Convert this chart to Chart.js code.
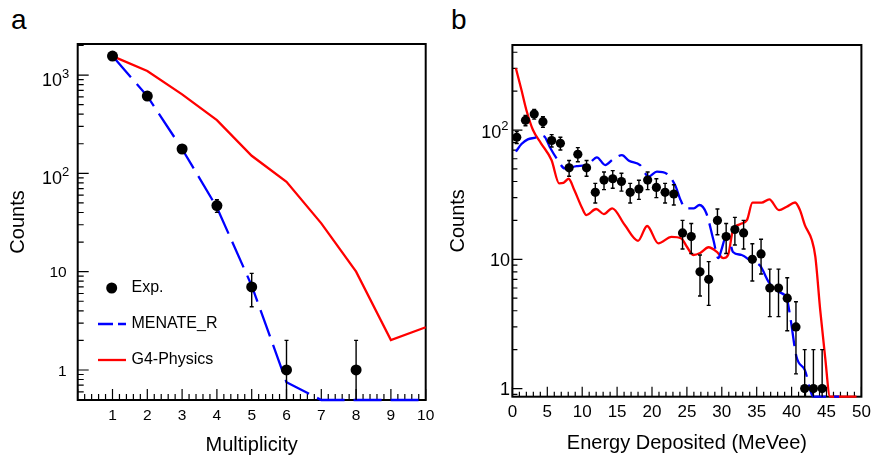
<!DOCTYPE html>
<html>
<head>
<meta charset="utf-8">
<script src="https://cdn.jsdelivr.net/npm/chart.js@4.4.1/dist/chart.umd.min.js"></script>
<style>
  body { margin: 0; background: #fff; width: 872px; height: 456px; position: relative; overflow: hidden; font-family: "Liberation Sans", Arial, sans-serif; }
  canvas { position: absolute; top: 0; }
  #chartA { left: 0; }
  #chartB { left: 440px; }
  .tag { position: absolute; top: 6px; font-size: 28px; line-height: 28px; color: #000; }
</style>
</head>
<body>
<div class="tag" style="left:11px">a</div>
<div class="tag" style="left:451px">b</div>
<canvas id="chartA" width="440" height="456"></canvas>
<canvas id="chartB" width="432" height="456"></canvas>
<script>
// ---- panel a: multiplicity ----
const multPoints = [1, 2, 3, 4, 5, 6, 7, 8, 9, 10];
const multTicks = [1, 2, 3, 4, 5, 6, 7, 8, 9, 10];
const expMult = [1, 2, 3, 4, 5, 6, 8];
const expMultCounts = [1560, 611, 177, 47, 7, 1, 1];
const expMultErr = [39.5, 24.7, 13.3, 6.9, 2.6, 1, 1];
const menateMult = [1560, 611, 177, 45, 7.2, 0.75, 0.495, 0.495, 0.495, 0.495];
const g4Mult = [1560, 1100, 636, 348, 151, 82, 31, 10, 2.02, 2.72];

// ---- panel b: energy deposited ----
const energyTicks = [0, 5, 10, 15, 20, 25, 30, 35, 40, 45, 50];
const expEnergy = [0.625, 1.875, 3.125, 4.375, 5.625, 6.875, 8.125, 9.375, 10.625, 11.875, 13.125, 14.375,
  15.625, 16.875, 18.125, 19.375, 20.625, 21.875, 23.125, 24.375, 25.625, 26.875, 28.125, 29.375,
  30.625, 31.875, 33.125, 34.375, 35.625, 36.875, 38.125, 39.375, 40.625, 41.875, 43.125, 44.375];
const expEnergyCounts = [88, 119, 133, 116, 83, 79, 51, 65, 51, 33, 41, 42, 40, 33, 35, 41, 36, 33,
  32, 16, 15, 8, 7, 20, 15, 17, 16, 10, 11, 6, 6, 5, 3, 1, 1, 1];
const expEnergyErr = [9.4, 10.9, 11.5, 10.8, 9.1, 8.9, 7.1, 8.1, 7.1, 5.7, 6.4, 6.5, 6.3, 5.7, 5.9, 6.4, 6.0, 5.7,
  5.7, 4.0, 3.9, 2.8, 2.6, 4.5, 3.9, 4.1, 4.0, 3.2, 3.3, 2.4, 2.4, 2.2, 1.7, 1, 1, 1];
const menateE = [0.5, 1.3, 2.2, 3.4, 3.9, 4.6, 5.35, 6.5, 7.5, 9.2, 10.4, 11.1, 12.1, 13.3, 14.4, 15.7, 16.7,
  18.3, 19.5, 20.7, 22.1, 23.3, 24.1, 24.8, 26.0, 26.8, 27.8, 28.8, 29.5, 30.0, 30.5, 31.2, 31.6, 32.85,
  34.3, 35.5, 36.7, 38.1, 39.3, 39.8, 40.7, 41.9, 43.1, 46.8];
const menateCounts = [68, 78, 84.7, 87.8, 91, 89, 74, 58.6, 50.5, 52.6, 53.6, 55.8, 61.5, 53.6, 59.3, 64, 57.8,
  53.6, 43.6, 47.6, 46, 37.5, 28.7, 24.8, 24.8, 26.3, 22.6, 14.1, 10.2, 12.1, 14.5, 13.3, 11.4, 10.8,
  9.6, 8.9, 6.7, 5.6, 5.0, 3.6, 1.76, 1.39, 0.865, 0.865];
const g4E = [0.5, 1.3, 2.0, 2.95, 4.1, 5.6, 6.7, 7.3, 8.05, 8.9, 10.0, 10.6, 12.0, 13.1, 14.3, 16.1, 18.0,
  19.3, 20.9, 22.8, 24.2, 25.0, 25.9, 26.9, 28.1, 29.3, 30.2, 30.9, 31.6, 32.6, 33.6, 34.4, 35.7, 36.8,
  38.2, 39.3, 40.5, 41.2, 41.9, 42.9, 43.4, 44.1, 44.8, 45.5, 49.3];
const g4Counts = [301, 204, 143, 100, 79, 58.6, 38.7, 39, 42, 34, 24.8, 22, 24.5, 22.4, 24.8, 18.4, 13.9,
  18.1, 13.3, 14.9, 14.5, 12.5, 10.8, 11.2, 12.4, 11.4, 10.2, 10.8, 16.8, 18.7, 20.1, 27.4, 27.4, 29.1,
  24, 25.5, 27.5, 24, 18.4, 14.1, 10.5, 4.05, 1.76, 0.865, 0.865];

const FONT = '"Liberation Sans", Arial, sans-serif';
const pairs = (xs, ys) => xs.map((x, i) => ({ x, y: ys[i] }));

// ROOT-like frame with inward major/minor ticks, error bars and 10^n labels
const rootFrame = {
  id: 'rootFrame',
  beforeDatasetsDraw(chart, args, o) {
    const { ctx, chartArea: a, scales: { x, y } } = chart;
    ctx.save();
    ctx.strokeStyle = '#000';
    ctx.lineWidth = 1.2;
    ctx.beginPath();
    const n = Math.round((x.max - x.min) / o.xMinor);
    for (let i = 0; i <= n; i++) {
      const v = x.min + i * o.xMinor;
      const px = x.getPixelForValue(v);
      const major = Math.abs(v / o.xMajor - Math.round(v / o.xMajor)) < 1e-6;
      ctx.moveTo(px, a.bottom);
      ctx.lineTo(px, a.bottom - (major ? o.major : o.minor));
    }
    const d0 = Math.floor(Math.log10(y.min)), d1 = Math.ceil(Math.log10(y.max));
    for (let d = d0; d <= d1; d++) {
      for (let m = 1; m <= 9; m++) {
        const v = m * Math.pow(10, d);
        if (v < y.min || v > y.max) continue;
        const py = y.getPixelForValue(v);
        ctx.moveTo(a.left, py);
        ctx.lineTo(a.left + (m === 1 ? o.major : o.minor), py);
      }
    }
    ctx.stroke();
    ctx.lineWidth = 2;
    ctx.strokeRect(a.left, a.top, a.right - a.left, a.bottom - a.top);
    ctx.restore();
  },
  afterDatasetsDraw(chart, args, o) {
    const { ctx, chartArea: a, scales: { x, y } } = chart;
    ctx.save();
    ctx.strokeStyle = '#000';
    ctx.lineWidth = 1.4;
    ctx.beginPath();
    o.errX.forEach((xv, i) => {
      const px = x.getPixelForValue(xv);
      const lo = o.errY[i] - o.err[i];
      const top = y.getPixelForValue(o.errY[i] + o.err[i]);
      const bot = lo > 0 ? Math.min(a.bottom, y.getPixelForValue(lo)) : a.bottom;
      ctx.moveTo(px, top); ctx.lineTo(px, bot);
      ctx.moveTo(px - 2, top); ctx.lineTo(px + 2, top);
      if (lo > 0) { ctx.moveTo(px - 2, bot); ctx.lineTo(px + 2, bot); }
    });
    ctx.stroke();

    // y tick labels, powers of ten written as 10 + raised exponent
    ctx.fillStyle = '#000';
    ctx.textAlign = 'right';
    ctx.textBaseline = 'alphabetic';
    o.yTicks.forEach(v => {
      const py = y.getPixelForValue(v);
      const e = Math.round(Math.log10(v));
      if (e < 2) {
        ctx.font = o.yFont + 'px ' + FONT;
        ctx.fillText(String(v), a.left - o.yPad, py + 0.36 * o.yFont);
      } else {
        const base = py + o.expShift + 0.36 * o.expBase;
        ctx.font = o.expSize + 'px ' + FONT;
        const right = a.left - o.expPad;
        ctx.fillText(String(e), right, base - 0.42 * o.expBase);
        const ew = ctx.measureText(String(e)).width;
        ctx.font = o.expBase + 'px ' + FONT;
        ctx.fillText('10', right - ew, base);
      }
    });
    ctx.restore();
  }
};

// legend drawn inside panel a
const insideLegend = {
  id: 'insideLegend',
  afterDraw(chart, args, o) {
    if (!o.show) return;
    const { ctx } = chart;
    const ds = chart.data.datasets;
    ctx.save();
    ctx.font = '16px ' + FONT;
    ctx.textBaseline = 'middle';
    const rows = [288, 324, 360];
    ds.forEach((d, i) => {
      const yy = rows[i];
      ctx.fillStyle = '#000';
      if (i === 0) {
        ctx.beginPath();
        ctx.arc(111.7, yy, 5.5, 0, Math.PI * 2);
        ctx.fill();
      } else {
        ctx.beginPath();
        ctx.strokeStyle = d.borderColor;
        ctx.lineWidth = d.borderWidth;
        ctx.setLineDash(d.borderDash ? [15, 5] : []);
        ctx.moveTo(98, yy); ctx.lineTo(126, yy);
        ctx.stroke();
        ctx.setLineDash([]);
      }
      ctx.fillText(d.label, 131.5, yy);
    });
    ctx.restore();
  }
};

function panel(id, cfg) {
  return new Chart(document.getElementById(id), {
    type: 'scatter',
    data: {
      datasets: [
        { label: 'Exp.', data: cfg.exp, showLine: false, pointRadius: cfg.dot, pointHoverRadius: cfg.dot,
          backgroundColor: '#000', borderColor: '#000', borderWidth: 0 },
        { label: 'MENATE_R', data: cfg.blue, showLine: true, pointRadius: 0, borderColor: '#0000ff',
          borderWidth: 2.3, borderDash: cfg.dash, tension: cfg.tension, cubicInterpolationMode: cfg.interp, clip: 6 },
        { label: 'G4-Physics', data: cfg.red, showLine: true, pointRadius: 0, borderColor: '#ff0000',
          borderWidth: 2.3, tension: cfg.tension, cubicInterpolationMode: cfg.interp, clip: 6 }
      ]
    },
    plugins: [rootFrame, insideLegend],
    options: {
      responsive: false,
      animation: false,
      devicePixelRatio: 1,
      layout: { padding: { top: cfg.top, right: cfg.right, left: 0, bottom: 0 } },
      plugins: {
        legend: { display: false },
        tooltip: { enabled: false },
        rootFrame: {
          xMinor: cfg.xMinor, xMajor: cfg.xMajor, major: cfg.tickMajor, minor: cfg.tickMinor,
          errX: cfg.errX, errY: cfg.errY, err: cfg.err,
          yTicks: cfg.yTicks, yFont: cfg.yFont, yPad: cfg.yPad,
          expBase: cfg.expBase, expSize: cfg.expSize, expPad: cfg.expPad, expShift: cfg.expShift
        },
        insideLegend: { show: cfg.legend }
      },
      scales: {
        x: {
          type: 'linear', min: cfg.xMin, max: cfg.xMax,
          grid: { display: false, drawTicks: false }, border: { display: false },
          afterBuildTicks: s => { s.ticks = cfg.xTicks.map(v => ({ value: v })); },
          afterFit: s => { s.height = cfg.xh; s.paddingLeft = 0; s.paddingRight = 0; },
          ticks: { color: '#000', font: { family: FONT, size: cfg.xFont }, padding: cfg.xPad,
            maxRotation: 0, autoSkip: false },
          title: { display: true, text: cfg.xTitle, color: '#000',
            font: { family: FONT, size: 20, lineHeight: 1.1 }, padding: { top: 0, bottom: cfg.xTitlePad } }
        },
        y: {
          type: 'logarithmic', min: cfg.yMin, max: cfg.yMax,
          grid: { display: false, drawTicks: false }, border: { display: false },
          afterBuildTicks: s => { s.ticks = cfg.yTicks.map(v => ({ value: v })); },
          afterFit: s => { s.width = cfg.yw; s.paddingTop = 0; s.paddingBottom = 0; },
          ticks: { display: false },
          title: { display: true, text: 'Counts', color: '#000',
            font: { family: FONT, size: 20, lineHeight: 1.1 }, padding: { top: cfg.yTitlePad, bottom: 0 } }
        }
      }
    }
  });
}

panel('chartA', {
  exp: pairs(expMult, expMultCounts), blue: pairs(multPoints, menateMult), red: pairs(multPoints, g4Mult),
  errX: expMult, errY: expMultCounts, err: expMultErr,
  dot: 5.5, dash: [28, 9], tension: 0, interp: 'default', legend: true,
  top: 44, right: 14.3, xh: 56, yw: 77.7,
  xMin: 0, xMax: 10, xTicks: multTicks, xMinor: 0.2, xMajor: 1,
  yMin: 0.495, yMax: 2070, yTicks: [1, 10, 100, 1000],
  tickMajor: 11, tickMinor: 6, xFont: 15.5, xPad: 6,
  yFont: 15.5, yPad: 11, expBase: 18, expSize: 13, expPad: 8.5, expShift: 4,
  xTitle: 'Multiplicity', xTitlePad: 0, yTitlePad: 7.5
});

panel('chartB', {
  exp: pairs(expEnergy, expEnergyCounts), blue: pairs(menateE, menateCounts), red: pairs(g4E, g4Counts),
  errX: expEnergy, errY: expEnergyCounts, err: expEnergyErr,
  dot: 4.6, dash: [26, 8], tension: 0.4, interp: 'monotone', legend: false,
  top: 45, right: 10.6, xh: 59.3, yw: 72.4,
  xMin: 0, xMax: 50, xTicks: energyTicks, xMinor: 1, xMajor: 5,
  yMin: 0.865, yMax: 455, yTicks: [1, 10, 100],
  tickMajor: 10, tickMinor: 5, xFont: 17, xPad: 5.5,
  yFont: 18, yPad: 2.5, expBase: 18, expSize: 13, expPad: 4, expShift: 1.5,
  xTitle: 'Energy Deposited (MeVee)', xTitlePad: 2, yTitlePad: 7
});
</script>
</body>
</html>
